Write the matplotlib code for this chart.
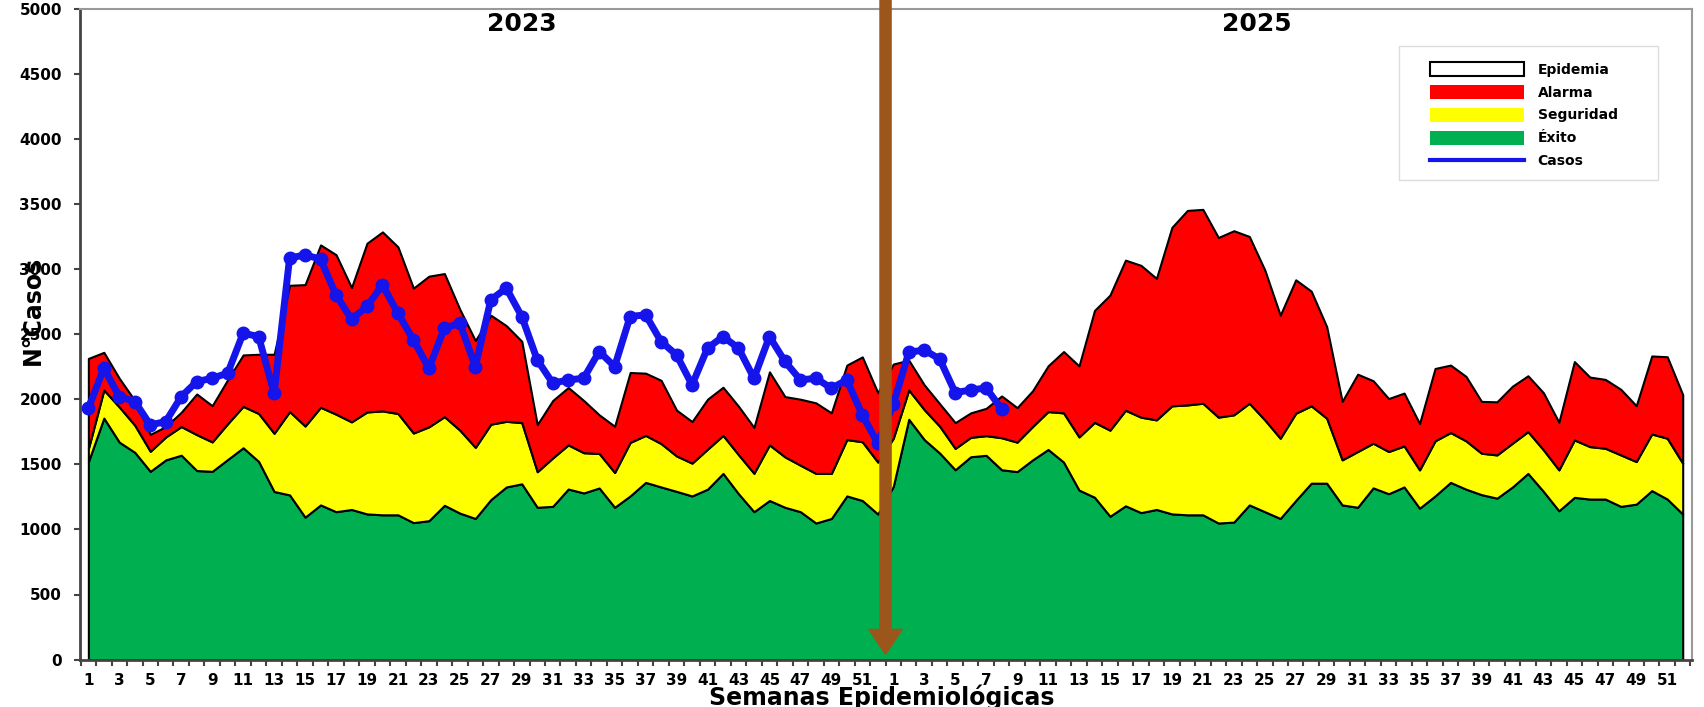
import numpy as np
import matplotlib.pyplot as plt
from matplotlib.patches import Patch, Rectangle
from matplotlib.lines import Line2D

# semanas epidemiologicas (2023 y 2025)
semanas = list(range(1, 53))

exito_2023 = [1520, 1855, 1670, 1592, 1446, 1534, 1570, 1452, 1446, 1537, 1627, 1522, 1291,
              1265, 1094, 1188, 1136, 1153, 1119, 1112, 1112, 1052, 1067, 1185, 1125, 1084,
              1229, 1326, 1350, 1170, 1177, 1310, 1280, 1318, 1170, 1257, 1361, 1326, 1292,
              1257, 1309, 1430, 1274, 1136, 1222, 1170, 1136, 1049, 1084, 1257, 1222, 1118]
seguridad_2023 = [1620, 2071, 1940, 1800, 1600, 1710, 1790, 1728, 1672, 1812, 1945, 1890, 1738,
                  1905, 1794, 1938, 1885, 1826, 1902, 1910, 1890, 1740, 1788, 1866, 1762, 1630,
                  1808, 1830, 1820, 1443, 1549, 1649, 1589, 1583, 1437, 1668, 1722, 1659, 1564,
                  1509, 1616, 1722, 1574, 1431, 1649, 1557, 1493, 1430, 1430, 1690, 1673, 1517]
alarma_2023 = [2313, 2360, 2160, 1990, 1730, 1790, 1900, 2040, 1950, 2150, 2340, 2345, 2345,
               2875, 2880, 3185, 3110, 2858, 3198, 3285, 3170, 2853, 2945, 2965, 2690, 2450,
               2645, 2565, 2445, 1805, 1990, 2090, 1990, 1880, 1792, 2205, 2200, 2145, 1916,
               1828, 2000, 2092, 1946, 1783, 2210, 2020, 2000, 1972, 1895, 2262, 2325, 2050]
casos_2023 = [1931, 2238, 2020, 1982, 1803, 1828, 2020, 2135, 2161, 2200, 2507, 2481, 2046,
              3083, 3109, 3075, 2801, 2614, 2712, 2878, 2660, 2456, 2238, 2545, 2584, 2251,
              2763, 2853, 2635, 2302, 2123, 2148, 2161, 2366, 2251, 2635, 2648, 2443, 2340,
              2110, 2392, 2481, 2392, 2161, 2481, 2290, 2148, 2161, 2084, 2148, 1879, 1662]

exito_2025 = [1330, 1846, 1690, 1586, 1458, 1558, 1569, 1458, 1444, 1534, 1614, 1517, 1302,
              1247, 1101, 1181, 1129, 1153, 1119, 1112, 1112, 1049, 1056, 1188, 1136, 1084,
              1222, 1355, 1355, 1188, 1170, 1319, 1274, 1326, 1163, 1257, 1361, 1309, 1267,
              1240, 1326, 1430, 1292, 1143, 1246, 1233, 1233, 1177, 1194, 1298, 1233, 1118]
seguridad_2025 = [1700, 2071, 1920, 1792, 1622, 1707, 1720, 1704, 1670, 1790, 1905, 1895, 1710,
                  1822, 1762, 1915, 1862, 1841, 1949, 1956, 1969, 1862, 1880, 1969, 1841, 1700,
                  1892, 1949, 1854, 1534, 1598, 1662, 1598, 1641, 1457, 1680, 1744, 1680, 1585,
                  1572, 1662, 1751, 1611, 1457, 1687, 1636, 1623, 1572, 1521, 1733, 1700, 1508]
alarma_2025 = [2270, 2300, 2110, 1965, 1820, 1895, 1930, 2025, 1935, 2065, 2256, 2366, 2256,
               2682, 2800, 3068, 3028, 2928, 3320, 3450, 3458, 3242, 3294, 3250, 2993, 2645,
               2917, 2830, 2557, 1983, 2192, 2142, 2005, 2047, 1813, 2236, 2262, 2175, 1983,
               1980, 2100, 2180, 2050, 1823, 2289, 2170, 2152, 2076, 1950, 2332, 2326, 2035]
casos_2025 = [1960, 2360, 2378, 2308, 2050, 2071, 2086, 1925]

exito = exito_2023 + exito_2025
seguridad = seguridad_2023 + seguridad_2025
alarma = alarma_2023 + alarma_2025
casos = casos_2023 + casos_2025
etiquetas = [str(s) for s in semanas]

x = np.arange(len(exito))
xc = np.arange(len(casos))

fig = plt.figure(figsize=(17.04, 7.07), dpi=100)
ax = fig.add_axes([80 / 1704, 47.4 / 707, 1612 / 1704, 651 / 707])

ax.fill_between(x, 0, exito, facecolor='#00B050', edgecolor='black', lw=1.5, zorder=2)
ax.fill_between(x, exito, seguridad, facecolor='#FFFF00', edgecolor='black', lw=1.5, zorder=2)
ax.fill_between(x, seguridad, alarma, facecolor='#FF0000', edgecolor='black', lw=1.5, zorder=2)

ax.plot(xc, casos, color='#1414EB', lw=5, marker='o', markersize=9, zorder=3)

ax.annotate('', xy=(51.5, 40), xytext=(51.5, 5067), annotation_clip=False,
            arrowprops=dict(arrowstyle='simple,head_width=1.2,head_length=0.9,tail_width=0.4',
                            mutation_scale=20, color='#9C561C', shrinkA=0, shrinkB=0),
            zorder=5)

ax.text(28, 4882, '2023', ha='center', va='center', fontsize=18, fontweight='bold')
ax.text(75.5, 4882, '2025', ha='center', va='center', fontsize=18, fontweight='bold')

ax.set_xlim(-0.54, 103.6)
ax.set_ylim(0, 5000)
ax.set_yticks(np.arange(0, 5001, 500))
ax.tick_params(axis='y', labelsize=11, length=4, width=1.5, color='#444444', pad=9)
for t in ax.get_yticklabels():
    t.set_fontweight('bold')

pos = [i for i in range(0, 52, 2)] + [52 + i for i in range(0, 52, 2)]
ax.set_xticks(pos)
ax.set_xticklabels([etiquetas[p % 52] for p in pos], fontsize=11, fontweight='bold')
ax.set_xticks(np.arange(-0.5, 104, 1), minor=True)
ax.tick_params(axis='x', which='major', length=0, pad=10)
ax.tick_params(axis='x', which='minor', length=4, width=1.5, color='#444444')

for s in ['left', 'bottom']:
    ax.spines[s].set_color('#444444')
    ax.spines[s].set_linewidth(2)
for s in ['top', 'right']:
    ax.spines[s].set_color('#999999')
    ax.spines[s].set_linewidth(1.5)

fig.text(882 / 1704, 10 / 707, 'Semanas Epidemiológicas', ha='center', va='center',
         fontsize=17, fontweight='bold')
fig.text(33 / 1704, 1 - 310 / 707, 'N°Casos', ha='center', va='center', rotation=90,
         fontsize=17, fontweight='bold')

# legend
ax.add_patch(Rectangle((0.8182, 0.7367), 0.1607, 0.2058, transform=ax.transAxes,
                       facecolor='white', edgecolor='#DDDDDD', lw=1, zorder=6))
handles = [Patch(facecolor='white', edgecolor='black', lw=1.5),
           Patch(facecolor='#FF0000', edgecolor='none'),
           Patch(facecolor='#FFFF00', edgecolor='none'),
           Patch(facecolor='#00B050', edgecolor='none'),
           Line2D([], [], color='#1414EB', lw=3)]
labels = ['Epidemia', 'Alarma', 'Seguridad', 'Éxito', 'Casos']
leg = ax.legend(handles, labels, loc='upper left', bbox_to_anchor=(0.8375, 0.918),
                frameon=False, borderpad=0, borderaxespad=0, handlelength=6.8,
                handleheight=1.15, labelspacing=0.6, handletextpad=0.95,
                prop={'size': 10, 'weight': 'bold'})
leg.set_zorder(7)

fig.savefig('out.png', dpi=100)
